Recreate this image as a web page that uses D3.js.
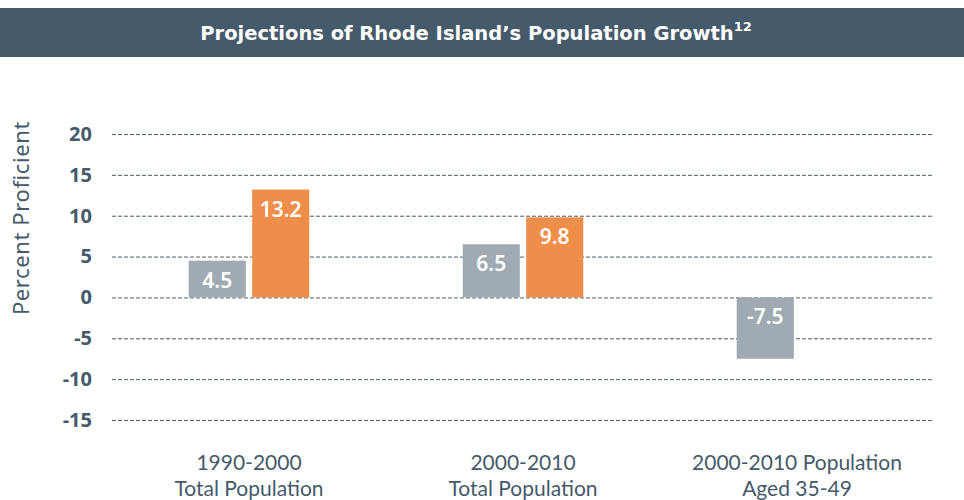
<!DOCTYPE html>
<html>
<head>
<meta charset="utf-8">
<script src="https://cdn.jsdelivr.net/npm/d3@7"></script>
<style>
  body { margin: 0; background: #fff; }
  svg { display: block; }
</style>
</head>
<body>
<div id="chart"></div>
<script>
(function(){
const width = 964,
  height = 500,
  margin = {top: 134, right: 30, bottom: 79, left: 112};

// data
const categories = [["1990-2000", "Total Population"], ["2000-2010", "Total Population"], ["2000-2010 Population", "Aged 35-49"]];
const seriesNames = ["A", "B"];
const seriesA = [4.5, 6.5, -7.5];
const seriesB = [13.2, 9.8, null];
const yTicks = [20, 15, 10, 5, 0, -5, -10, -15];

const colors = {A: "#9faab2", B: "#ef8e4b"};
const ink = "#455a6a";
const bodyFont = "'Noto Sans', 'Open Sans', sans-serif";

const svg = d3.select("#chart")
  .append("svg")
  .attr("width", width)
  .attr("height", height);

// title bar
svg.append("rect")
  .attr("x", 0).attr("y", 8)
  .attr("width", width).attr("height", 49)
  .attr("fill", "#455a6a");

const title = svg.append("text")
  .attr("x", width / 2 - 6)
  .attr("y", 40)
  .attr("text-anchor", "middle")
  .attr("fill", "#fff")
  .style("font-family", "'DejaVu Sans', sans-serif")
  .style("font-weight", "bold")
  .style("font-size", "19.5px");
title.append("tspan").text("Projections of Rhode Island\u2019s Population Growth");
title.append("tspan").attr("dy", -9).style("font-size", "13px").text("12");

const keys = categories.map(d => d.join(" "));

const x0 = d3.scaleBand(keys, [margin.left, width - margin.right])
  .paddingInner(0.56)
  .paddingOuter(0.28);

const x1 = d3.scaleBand(seriesNames, [0, x0.bandwidth()])
  .paddingInner(0.1);

const y = d3.scaleLinear([-15, 20], [height - margin.bottom - 1, margin.top]);

// grid + tick labels
const yAxis = svg.append("g")
  .attr("transform", `translate(${margin.left},0)`)
  .call(d3.axisLeft(y).tickValues(yTicks).tickFormat(d => String(d))
    .tickSize(-(width - margin.left - margin.right)).tickPadding(20));

yAxis.select(".domain").remove();
yAxis.selectAll(".tick line")
  .attr("stroke", "#4d5f6c")
  .attr("stroke-dasharray", "4,2");
yAxis.selectAll(".tick text")
  .attr("fill", ink)
  .style("font-family", bodyFont)
  .style("font-weight", "bold")
  .style("font-size", "20px");

// axis title
svg.append("text")
  .attr("transform", `translate(29,218) rotate(-90)`)
  .attr("text-anchor", "middle")
  .attr("fill", ink)
  .style("font-family", bodyFont)
  .style("font-size", "22px")
  .style("letter-spacing", "0.6px")
  .text("Percent Proficient");

// bars
const rows = [];
keys.forEach((k, i) => {
  rows.push({key: k, s: "A", v: seriesA[i]});
  if (seriesB[i] != null) rows.push({key: k, s: "B", v: seriesB[i]});
});

const bars = svg.append("g")
  .selectAll("g")
  .data(rows)
  .join("g");

bars.append("rect")
  .attr("x", d => x0(d.key) + x1(d.s))
  .attr("y", d => y(Math.max(0, d.v)))
  .attr("width", x1.bandwidth())
  .attr("height", d => Math.abs(y(d.v) - y(0)))
  .attr("fill", d => colors[d.s]);

bars.append("text")
  .attr("x", d => x0(d.key) + x1(d.s) + x1.bandwidth() / 2)
  .attr("y", d => y(Math.max(0, d.v)) + 27)
  .attr("text-anchor", "middle")
  .attr("fill", "#fff")
  .style("font-family", bodyFont)
  .style("font-weight", "600")
  .style("font-size", "21px")
  .text(d => d.v.toFixed(1));

// category labels
const cat = svg.append("g")
  .selectAll("text")
  .data(categories)
  .join("text")
  .attr("x", (d, i) => x0(keys[i]) + x0.bandwidth() / 2)
  .attr("y", 470)
  .attr("text-anchor", "middle")
  .attr("fill", ink)
  .style("font-family", "Lato, 'Noto Sans', sans-serif")
  .style("font-size", "21px");

cat.append("tspan").text(d => d[0]);
cat.append("tspan")
  .attr("x", (d, i) => x0(keys[i]) + x0.bandwidth() / 2)
  .attr("dy", 26)
  .text(d => d[1]);
})();
</script>
</body>
</html>
